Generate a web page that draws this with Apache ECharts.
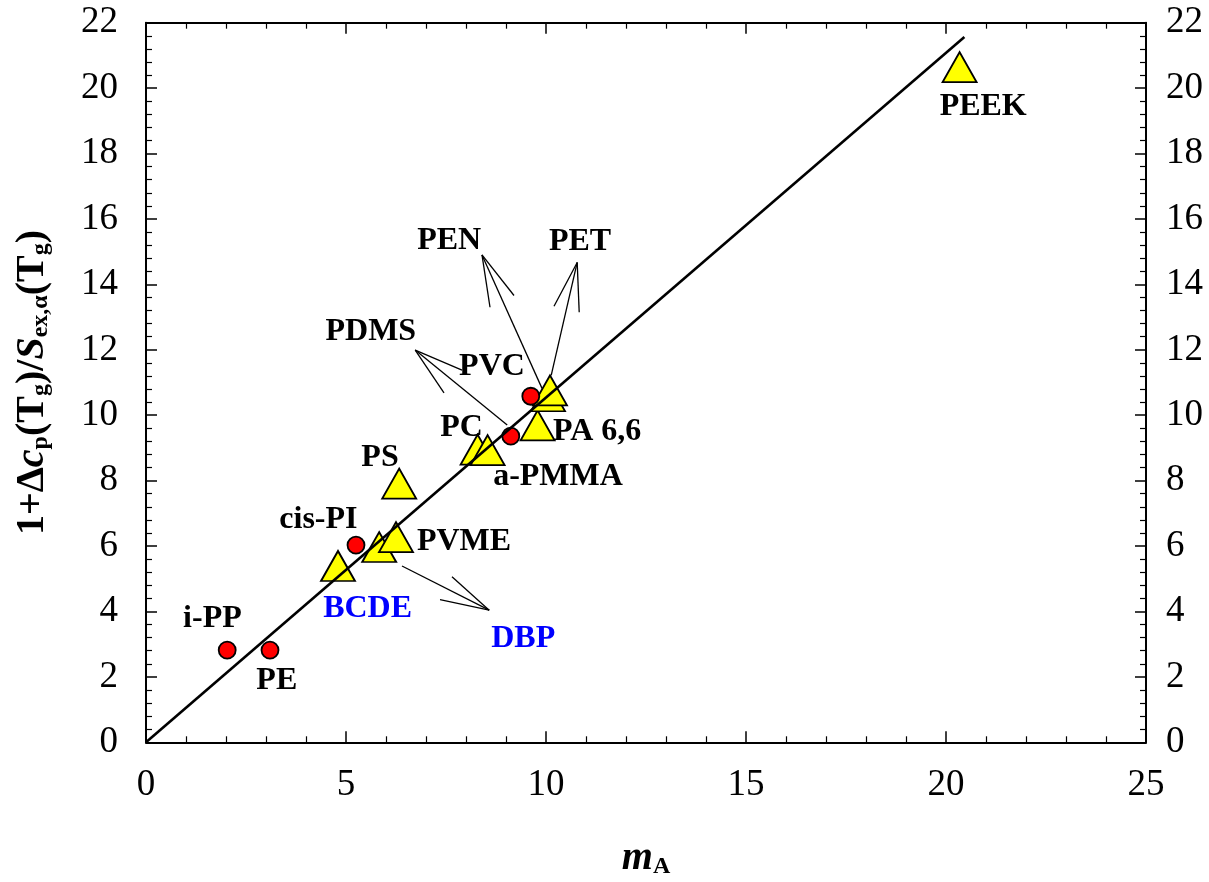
<!DOCTYPE html>
<html>
<head>
<meta charset="utf-8">
<script src="https://cdn.jsdelivr.net/npm/echarts@6/dist/echarts.min.js"></script>
<style>
  html, body { margin: 0; padding: 0; background: #fff; }
  #chart { width: 1209px; height: 882px; }
</style>
</head>
<body>
<div id="chart"></div>
<script>
// Polymers measured as round points
const circleNames = ['i-PP', 'PE', 'cis-PI', 'PDMS', 'PVC'];
const circleX = [2.03, 3.10, 5.25, 9.12, 9.62];
const circleY = [2.82, 2.82, 6.03, 9.36, 10.58];

// Polymers and small-molecule glass formers drawn as triangles
const triangleNames = ['BCDE', 'DBP', 'PVME', 'PS', 'PC', 'a-PMMA', 'PA 6,6', 'PEN', 'PET', 'PEEK'];
const triangleX = [4.80, 5.83, 6.25, 6.33, 8.29, 8.54, 9.79, 10.05, 10.10, 20.34];
const triangleY = [5.39, 5.97, 6.27, 7.91, 8.95, 8.93, 9.69, 10.58, 10.76, 20.64];

// Proportionality line through the origin
const fitX = [0, 20.46];
const fitY = [0, 21.56];

// Text annotations (centre of each label, data units)
const labelText = ['PEEK', 'PEN', 'PET', 'PDMS', 'PVC', 'PC', 'PA 6,6', 'a-PMMA', 'PS', 'cis-PI', 'PVME', 'BCDE', 'DBP', 'i-PP', 'PE'];
const labelX = [20.93, 7.58, 10.85, 5.62, 8.65, 7.89, 11.28, 10.30, 5.85, 4.31, 7.95, 5.54, 9.43, 1.66, 3.27];
const labelY = [19.43, 15.34, 15.29, 12.55, 11.48, 9.63, 9.50, 8.12, 8.70, 6.79, 6.14, 4.09, 3.18, 3.79, 1.88];
const blueLabels = ['BCDE', 'DBP'];

// Pointer lines: first point is the tip at the label, second the far end,
// the remaining two are the open head strokes from the tip
const pointerNames = ['PEN', 'PET', 'PDMS', 'DBP'];
const pointerPts = [
  [[8.40, 14.90], [9.90, 10.82], [8.60, 13.30], [9.20, 13.66]],
  [[10.78, 14.67], [10.13, 11.22], [10.20, 13.33], [10.83, 13.15]],
  [[6.73, 11.99], [9.03, 9.70], [7.90, 11.38], [7.45, 10.68]],
  [[8.58, 4.04], [6.40, 5.39], [7.65, 5.06], [7.35, 4.36]]
];

const FONT = "'Liberation Serif', 'Times New Roman', Times, serif";

const zip = (xs, ys) => xs.map((x, i) => [x, ys[i]]);

const pointerSegments = [];
pointerPts.forEach(p => {
  for (let k = 1; k < p.length; k++) {
    pointerSegments.push([{ coord: p[0] }, { coord: p[k] }]);
  }
});

const mainTok = { fontFamily: FONT, fontSize: 40, fontWeight: 'bold', color: '#000', lineHeight: 40, padding: [0, 0, 11, 0], verticalAlign: 'top' };
const italTok = Object.assign({}, mainTok, { fontStyle: 'italic' });
const subTok = { fontFamily: FONT, fontSize: 24, fontWeight: 'bold', color: '#000', lineHeight: 24, verticalAlign: 'bottom' };

const axisCommon = {
  type: 'value',
  axisLine: { show: true, onZero: false, lineStyle: { color: '#000', width: 2 } },
  axisTick: { show: true, inside: true, length: 11, lineStyle: { color: '#000', width: 1.5 } },
  minorTick: { show: true, splitNumber: 5, length: 6, lineStyle: { color: '#000', width: 1.2 } },
  splitLine: { show: false },
  minorSplitLine: { show: false },
  axisLabel: { fontFamily: FONT, fontSize: 37, color: '#000' }
};

const chart = echarts.init(document.getElementById('chart'));
chart.setOption({
  animation: false,
  backgroundColor: '#fff',
  textStyle: { fontFamily: FONT },
  grid: { left: 146, right: 63, top: 22.7, bottom: 139.7, containLabel: false, outerBoundsMode: 'none' },
  xAxis: [
    Object.assign({}, axisCommon, {
      position: 'bottom', min: 0, max: 25, interval: 5,
      axisLabel: Object.assign({}, axisCommon.axisLabel, { margin: 24 }),
      name: '{i|m}{s|A}',
      nameLocation: 'middle', nameGap: 96, nameMoveOverlap: false,
      nameTextStyle: { rich: { i: italTok, s: subTok } }
    }),
    Object.assign({}, axisCommon, {
      position: 'top', min: 0, max: 25, interval: 5,
      axisLabel: { show: false }
    })
  ],
  yAxis: [
    Object.assign({}, axisCommon, {
      position: 'left', min: 0, max: 22, interval: 2,
      axisLabel: Object.assign({}, axisCommon.axisLabel, { margin: 28 }),
      name: '{b|1+Δ}{i|c}{s|p}{b|(T}{s|g}{b|)/}{i|S}{s|ex,α}{b|(T}{s|g}{b|)}',
      nameLocation: 'middle', nameRotate: 90, nameGap: 93, nameMoveOverlap: false,
      nameTextStyle: { rich: { b: mainTok, i: italTok, s: subTok } }
    }),
    Object.assign({}, axisCommon, {
      position: 'right', min: 0, max: 22, interval: 2,
      axisLabel: Object.assign({}, axisCommon.axisLabel, { margin: 20 })
    })
  ],
  series: [
    {
      type: 'scatter',
      name: 'triangles',
      symbol: 'triangle',
      symbolSize: [34, 30],
      itemStyle: { color: '#ffff00', borderColor: '#000', borderWidth: 1.8, opacity: 1 },
      data: triangleNames.map((n, i) => ({ name: n, value: [triangleX[i], triangleY[i]] })),
      z: 3
    },
    {
      type: 'scatter',
      name: 'circles',
      symbol: 'circle',
      symbolSize: 17,
      itemStyle: { color: '#ff0000', borderColor: '#000', borderWidth: 1.8, opacity: 1 },
      data: circleNames.map((n, i) => ({ name: n, value: [circleX[i], circleY[i]] })),
      z: 3
    },
    {
      type: 'line',
      name: 'fit',
      data: zip(fitX, fitY),
      showSymbol: false,
      symbol: 'none',
      lineStyle: { color: '#000', width: 2.6 },
      z: 4,
      markLine: {
        silent: true,
        symbol: ['none', 'none'],
        label: { show: false },
        lineStyle: { color: '#000', width: 1.3, type: 'solid' },
        data: pointerSegments
      }
    },
    {
      type: 'scatter',
      name: 'labels',
      symbol: 'circle',
      symbolSize: 1,
      itemStyle: { color: 'rgba(0,0,0,0)', opacity: 1 },
      label: {
        show: true, position: 'inside', formatter: '{b}',
        fontFamily: FONT, fontSize: 32, fontWeight: 'bold', color: '#000', opacity: 1
      },
      labelLayout: { hideOverlap: false },
      data: labelText.map((t, i) => ({
        name: t,
        value: [labelX[i], labelY[i]],
        label: { color: blueLabels.includes(t) ? '#0000ff' : '#000' }
      })),
      z: 5
    }
  ]
});
</script>
</body>
</html>
